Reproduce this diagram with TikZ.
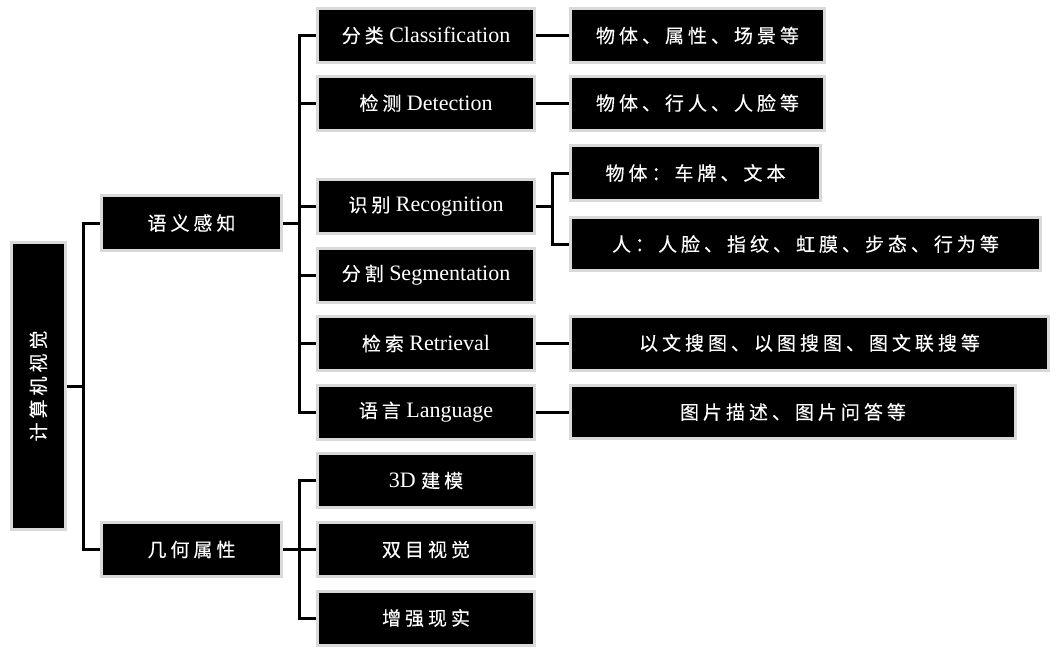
\documentclass[tikz,border=0pt]{standalone}
\usepackage{fontspec}
\usepackage{graphicx}
\setmainfont{Liberation Serif}
\newfontfamily\cjk[LetterSpace=21,FakeBold=0.25]{Noto Sans CJK SC}
\definecolor{boxgray}{HTML}{D9D9D9}
\tikzset{
  box/.style={draw=boxgray, line width=3pt, fill=black, text=white, inner sep=0pt,
    align=center, font=\fontsize{22pt}{26pt}\selectfont},
  conn/.style={draw=black, line width=3pt, line join=miter},
}
\newcommand{\zh}[1]{{\fontsize{19pt}{24pt}\cjk #1}}
\begin{document}
\begin{tikzpicture}[x=1pt,y=-1pt]
\useasboundingbox (0,0) rectangle (1061,649);
% root
\node[box, minimum width=54pt, minimum height=287pt] (root) at (38.3,386) {\rotatebox{90}{\zh{计算机视觉}}};
% level 2
\node[box, minimum width=180pt, minimum height=55pt] (sem) at (191.5,223) {\zh{语义感知}};
\node[box, minimum width=180pt, minimum height=54pt] (geo) at (191.5,549.5) {\zh{几何属性}};
% level 3
\tikzset{lvthree/.style={box, minimum width=217pt, minimum height=54pt}}
\node[lvthree] (c1) at (426,35.5) {\zh{分类} Classification};
\node[lvthree] (c2) at (426,103) {\zh{检测} Detection};
\node[lvthree] (c3) at (426,206.5) {\zh{识别} Recognition};
\node[lvthree] (c4) at (426,275) {\zh{分割} Segmentation};
\node[lvthree] (c5) at (426,343.5) {\zh{检索} Retrieval};
\node[lvthree] (c6) at (426,412) {\zh{语言} Language};
\node[lvthree] (g1) at (426,480.5) {3D \zh{建模}};
\node[lvthree] (g2) at (426,549.5) {\zh{双目视觉}};
\node[lvthree] (g3) at (426,618) {\zh{增强现实}};
% level 4
\node[box, minimum width=254pt, minimum height=54pt] (a1) at (697.5,35.5) {\zh{物体、属性、场景等}};
\node[box, minimum width=254pt, minimum height=54pt] (a2) at (697.5,103) {\zh{物体、行人、人脸等}};
\node[box, minimum width=250pt, minimum height=55pt] (r1) at (695.5,173) {\zh{物体：车牌、文本}};
\node[box, minimum width=470pt, minimum height=53pt] (r2) at (805.5,244) {\zh{人：人脸、指纹、虹膜、步态、行为等}};
\node[box, minimum width=478pt, minimum height=54pt] (t1) at (809.5,343) {\zh{以文搜图、以图搜图、图文联搜等}};
\node[box, minimum width=445pt, minimum height=53pt] (l1) at (793,412) {\zh{图片描述、图片问答等}};
% trunk coordinates
\coordinate (k1) at (83,0);
\coordinate (k2) at (299,0);
\coordinate (k3) at (552,0);
% connectors
\draw[conn] (root.east) -- (root.east -| k1);
\draw[conn] (sem.west) -- (sem.west -| k1) -- (geo.west -| k1) -- (geo.west);
\draw[conn] (sem.east) -- (sem.east -| k2);
\draw[conn] (c1.west) -- (c1.west -| k2) -- (c6.west -| k2) -- (c6.west);
\draw[conn] (c2.west) -- (c2.west -| k2);
\draw[conn] (c3.west) -- (c3.west -| k2);
\draw[conn] (c4.west) -- (c4.west -| k2);
\draw[conn] (c5.west) -- (c5.west -| k2);
\draw[conn] (geo.east) -- (geo.east -| k2);
\draw[conn] (g1.west) -- (g1.west -| k2) -- (g3.west -| k2) -- (g3.west);
\draw[conn] (g2.west) -- (g2.west -| k2);
\draw[conn] (c1.east) -- (a1.west);
\draw[conn] (c2.east) -- (a2.west);
\draw[conn] (c5.east) -- (c5.east -| t1.west);
\draw[conn] (c6.east) -- (c6.east -| l1.west);
\draw[conn] (c3.east) -- (c3.east -| k3);
\draw[conn] (r1.west) -- (r1.west -| k3) -- (r2.west -| k3) -- (r2.west);
\end{tikzpicture}
\end{document}
